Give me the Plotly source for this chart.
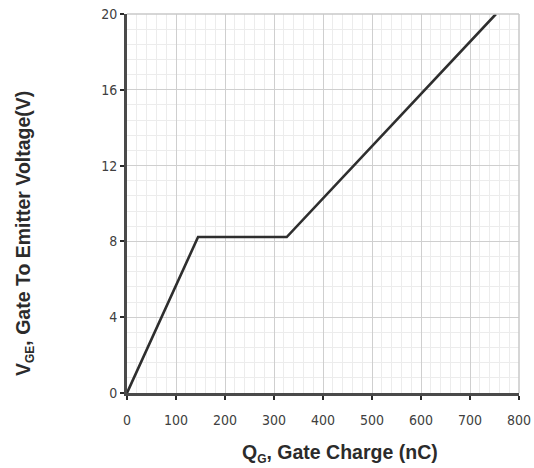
import plotly.graph_objects as go

# Gate charge curve: Q_G (nC) vs V_GE (V)
gate_charge_nc = [0, 145, 326, 753]
gate_voltage_v = [0, 8.23, 8.23, 20]

x_ticks = [0, 100, 200, 300, 400, 500, 600, 700, 800]
y_ticks = [0, 4, 8, 12, 16, 20]

tick_font = dict(family="DejaVu Sans Condensed, Liberation Sans Narrow, Liberation Sans, Arial",
                 size=14, color="#404040")
title_font_x = dict(family="Liberation Sans, Arial", size=19.5, color="#2b2b2b")
title_font_y = dict(family="Liberation Sans, Arial", size=19.5, color="#2b2b2b")

fig = go.Figure()
fig.add_trace(go.Scatter(
    x=gate_charge_nc, y=gate_voltage_v, mode="lines",
    line=dict(color="#2e2e2e", width=2.6), showlegend=False,
))

axis_common = dict(
    showline=True, linecolor="#4a4a4a", linewidth=3,
    ticks="outside", ticklen=4, tickwidth=2, tickcolor="#2a2a2a",
    showgrid=True, gridcolor="#cfcfcf", gridwidth=1,
    zeroline=False, tickfont=tick_font, automargin=False,
)

fig.update_xaxes(
    range=[0, 800], tickvals=x_ticks, ticktext=[str(v) for v in x_ticks],
    minor=dict(dtick=20, showgrid=True, gridcolor="#ececec", gridwidth=1),
    ticklabelstandoff=8,
    **axis_common,
)
fig.update_yaxes(
    range=[0, 20], tickvals=y_ticks, ticktext=[str(v) for v in y_ticks],
    minor=dict(dtick=0.8, showgrid=True, gridcolor="#ececec", gridwidth=1),
    **axis_common,
)

# light frame on top and right
fig.add_shape(type="line", xref="paper", yref="paper", x0=0, x1=1, y0=1, y1=1,
              line=dict(color="#c8c8c8", width=1.5))
fig.add_shape(type="line", xref="paper", yref="paper", x0=1, x1=1, y0=0, y1=1,
              line=dict(color="#c8c8c8", width=1.5))

sub_style = "font-size:12px"
fig.add_annotation(
    text=f"<b>Q<sub><span style='{sub_style}'>G</span></sub>, Gate Charge (nC)</b>",
    xref="paper", yref="paper", x=(340 - 127) / 392, y=-(453 - 393) / 379,
    xanchor="center", yanchor="middle",
    showarrow=False, font=title_font_x,
)
fig.add_annotation(
    text=f"<b>V<sub><span style='{sub_style}'>GE</span></sub>, Gate To Emitter Voltage(V)</b>",
    xref="paper", yref="paper", x=-(127 - 24) / 392, y=(393 - 234) / 379,
    xanchor="center", yanchor="middle",
    textangle=-90, showarrow=False, font=title_font_y,
)

fig.update_layout(
    width=534, height=468,
    margin=dict(l=127, r=15, t=14, b=75),
    paper_bgcolor="white", plot_bgcolor="white",
)

fig.write_html("out.html")
